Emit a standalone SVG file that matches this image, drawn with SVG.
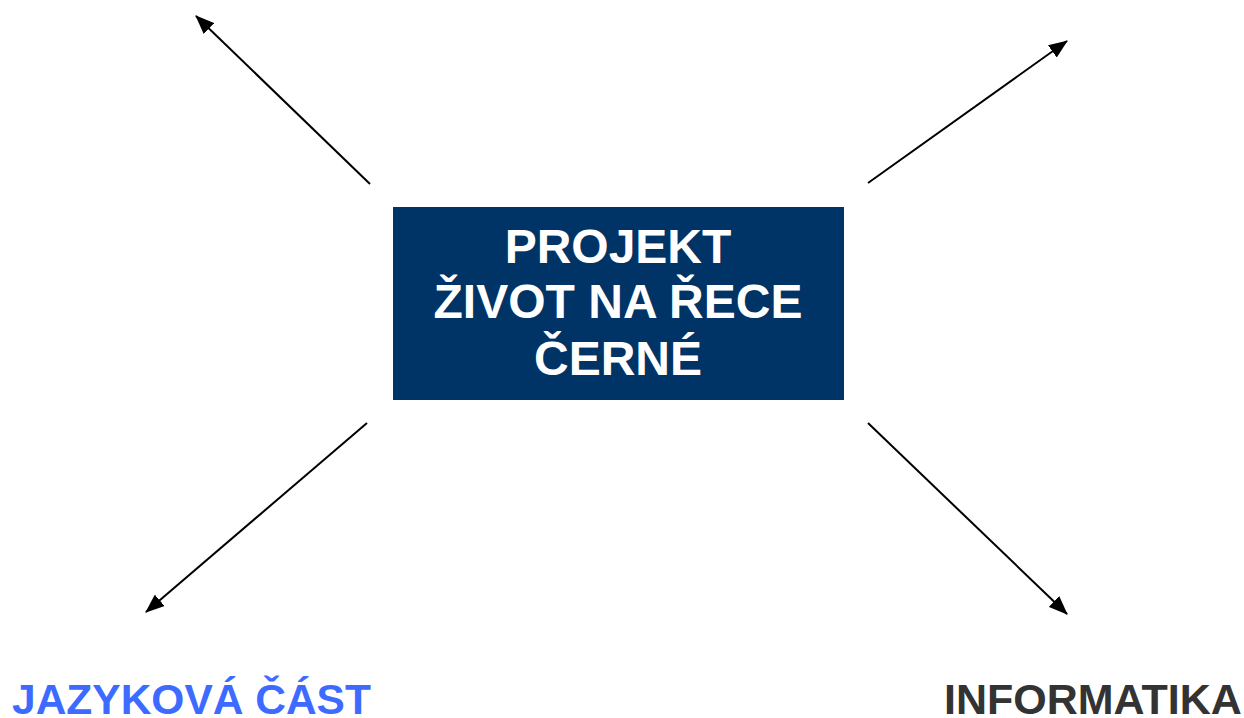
<svg xmlns="http://www.w3.org/2000/svg" width="1244" height="718" viewBox="0 0 1244 718">
<style>
.c{stroke:#000;stroke-width:2;fill:none;marker-end:url(#ah)}
.t{font-family:"Liberation Sans",Arial,sans-serif;font-weight:bold}
</style>
<defs>
<marker id="ah" markerUnits="userSpaceOnUse" markerWidth="19" markerHeight="15" refX="18" refY="7.5" orient="auto">
<path d="M0,0 L19,7.5 L0,15 Z" fill="#000"/>
</marker>
</defs>
<rect width="1244" height="718" fill="#fff"/>
<g id="connectors">
<line class="c" x1="370" y1="184" x2="196" y2="16"/>
<line class="c" x1="868" y1="183" x2="1067" y2="41"/>
<line class="c" x1="367" y1="423" x2="146" y2="612"/>
<line class="c" x1="868" y1="423" x2="1067" y2="614"/>
</g>
<g id="center">
<rect x="393" y="207" width="451" height="193" fill="#003366"/>
<text class="t" x="618" y="263" font-size="48" fill="#fff" text-anchor="middle">PROJEKT</text>
<text class="t" x="618" y="318" font-size="48" fill="#fff" text-anchor="middle">ŽIVOT NA ŘECE</text>
<text class="t" x="618" y="375" font-size="48" fill="#fff" text-anchor="middle">ČERNÉ</text>
</g>
<g id="jazykova">
<text class="t" x="12" y="714" font-size="42.5" fill="#3d6bff">JAZYKOVÁ ČÁST</text>
</g>
<g id="informatika">
<text class="t" x="944" y="714" font-size="43" fill="#333">INFORMATIKA</text>
</g>
</svg>
